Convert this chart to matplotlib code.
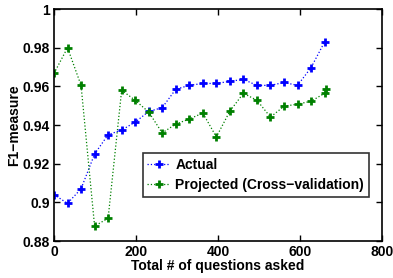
import matplotlib
matplotlib.use("Agg")
import matplotlib.pyplot as plt
from matplotlib.ticker import FuncFormatter

# x values: questions asked
actual_x = [0, 33, 66, 99, 132, 165, 198, 231, 264, 297, 330, 363, 396,
            429, 462, 495, 528, 561, 594, 627, 660]
actual_f1 = [0.904, 0.8995, 0.907, 0.925, 0.935, 0.9374, 0.9415, 0.947,
             0.949, 0.9585, 0.9605, 0.9615, 0.9615, 0.9626, 0.9636, 0.9605,
             0.9605, 0.962, 0.9605, 0.9697, 0.983]

proj_x = [0, 33, 66, 99, 132, 165, 198, 231, 264, 297, 330, 363, 396,
          429, 462, 495, 528, 561, 594, 627, 660, 664]
proj_f1 = [0.9667, 0.98, 0.9605, 0.8877, 0.8918, 0.958, 0.9528, 0.9467,
           0.9359, 0.9405, 0.9431, 0.9462, 0.9338, 0.9472, 0.9564, 0.9528,
           0.9441, 0.9497, 0.9508, 0.9523, 0.9564, 0.9585]

plt.rcParams['font.family'] = ['Liberation Sans', 'DejaVu Sans']
plt.rcParams['font.weight'] = 'bold'

fig = plt.figure(figsize=(3.93, 2.78), dpi=100)
ax = fig.add_axes([0.1374, 0.133, 0.8346, 0.8346])

ax.plot(actual_x, actual_f1, linestyle=':', color='blue', linewidth=0.9,
        marker='+', markersize=5.5, markeredgewidth=2, label='Actual')
ax.plot(proj_x, proj_f1, linestyle=':', color='green', linewidth=0.9,
        marker='+', markersize=5.5, markeredgewidth=2,
        label='Projected (Cross\u2212validation)')

ax.set_xlim(0, 800)
ax.set_ylim(0.88, 1.0)
ax.set_xticks([0, 200, 400, 600, 800])
ax.set_yticks([0.88, 0.9, 0.92, 0.94, 0.96, 0.98, 1.0])
ax.yaxis.set_major_formatter(FuncFormatter(lambda v, p: '%g' % round(v, 2)))

ax.tick_params(direction='in', top=True, right=True, labelsize=10,
               length=4, width=1, pad=3)
for lab in ax.get_xticklabels() + ax.get_yticklabels():
    lab.set_fontweight('bold')
for sp in ax.spines.values():
    sp.set_linewidth(1.2)

ax.set_xlabel('Total # of questions asked', fontsize=10, fontweight='bold',
              labelpad=0)
ax.set_ylabel('F1\u2212measure', fontsize=10, fontweight='bold', labelpad=1)

leg = ax.legend(loc='lower right', bbox_to_anchor=(0.96, 0.19),
                fontsize=10, frameon=True, fancybox=False, handlelength=1.6,
                handletextpad=0.4, borderpad=0.35, labelspacing=0.45,
                borderaxespad=0)
leg.get_frame().set_edgecolor('black')
leg.get_frame().set_linewidth(1.2)
for t in leg.get_texts():
    t.set_fontweight('bold')

fig.savefig('out.png', dpi=100)
